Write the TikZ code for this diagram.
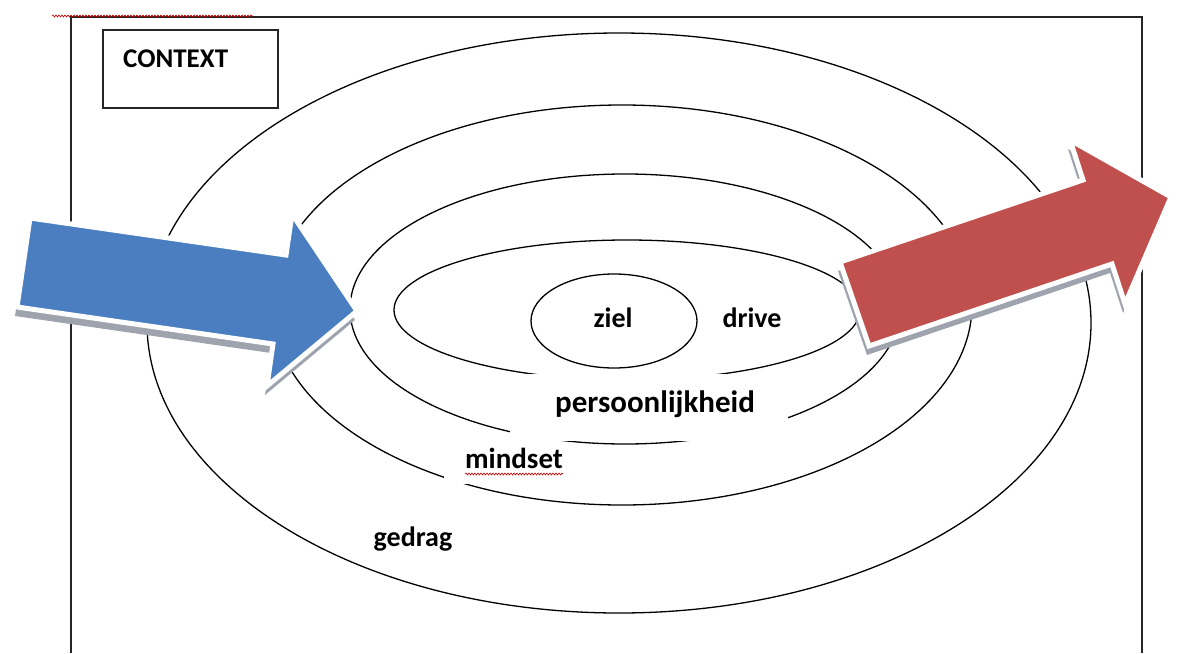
\documentclass[tikz,border=0pt]{standalone}
\usepackage{fontspec}
\setmainfont{Carlito}
\usetikzlibrary{decorations.pathmorphing}
\definecolor{arrowblue}{RGB}{74,126,192}
\definecolor{arrowred}{RGB}{192,80,77}
\definecolor{shadowgrey}{RGB}{158,163,174}

\tikzset{
  ring/.style={line width=1.3pt},
  frame/.style={line width=1.5pt, black!85},
  lbl/.style={font=\bfseries\fontsize{28}{28}\selectfont, inner sep=0pt, anchor=base},
  blank/.style={fill=white},
  glow/.style={draw=white, line width=5pt, line join=miter},
  squiggle/.style={red!80!black, line width=0.6pt, decorate,
    decoration={snake, amplitude=1pt, segment length=3pt}},
}

\begin{document}
\begin{tikzpicture}[x=1pt, y=-1pt]
\useasboundingbox (0,0) rectangle (1177,653);
% frame and context box
\draw[frame] (71,653) -- (71,17) -- (1142,17) -- (1142,653);
\draw[squiggle] (52,16) -- (253,16);
\node[draw, frame, anchor=north west, minimum width=175pt, minimum height=78pt, inner sep=0pt] (ctxbox) at (102,29) {};
\node[lbl, anchor=base west, font=\bfseries\fontsize{27}{27}\selectfont] (context) at (123,67) {CONTEXT};

% rings
\draw[ring] (619,323) ellipse [x radius=472, y radius=290];
\draw[ring] (622,305) ellipse [x radius=350, y radius=200];
\draw[ring] (625,309) ellipse [x radius=275, y radius=135];
\draw[ring] (627,310) ellipse [x radius=233, y radius=70];
\draw[ring] (614,321) ellipse [x radius=83, y radius=47];

% label backgrounds
\fill[blank] (510,374) rectangle (788,441);
\fill[blank] (444,447) rectangle (590,484);
\fill[blank] (352,515) rectangle (470,558);

\node[lbl] (ziel) at (613,327) {ziel};
\node[lbl] (drive) at (752,327) {drive};
\node[lbl, font=\bfseries\fontsize{31}{31}\selectfont] (pers) at (655,412) {persoonlijkheid};
\node[lbl, font=\bfseries\fontsize{29}{29}\selectfont] (mindset) at (514,468) {mindset};
\draw[squiggle] (465,474) -- (563,474);
\node[lbl] (gedrag) at (413,546) {gedrag};

% blue arrow
\fill[shadowgrey, shift={(-2,9)}] (30,218) -- (286,255) -- (292,214) -- (357,311) -- (267,386) -- (273,344) -- (17,307) -- cycle;
\filldraw[glow, fill=arrowblue] (30,218) -- (286,255) -- (292,214) -- (357,311) -- (267,386) -- (273,344) -- (17,307) -- cycle;

% red arrow
\fill[shadowgrey, shift={(-2,9)}] (840,262) -- (1083,180) -- (1070,140) -- (1171,197) -- (1125,304) -- (1112,264) -- (869,346) -- cycle;
\filldraw[glow, fill=arrowred] (840,262) -- (1083,180) -- (1070,140) -- (1171,197) -- (1125,304) -- (1112,264) -- (869,346) -- cycle;
\end{tikzpicture}
\end{document}
